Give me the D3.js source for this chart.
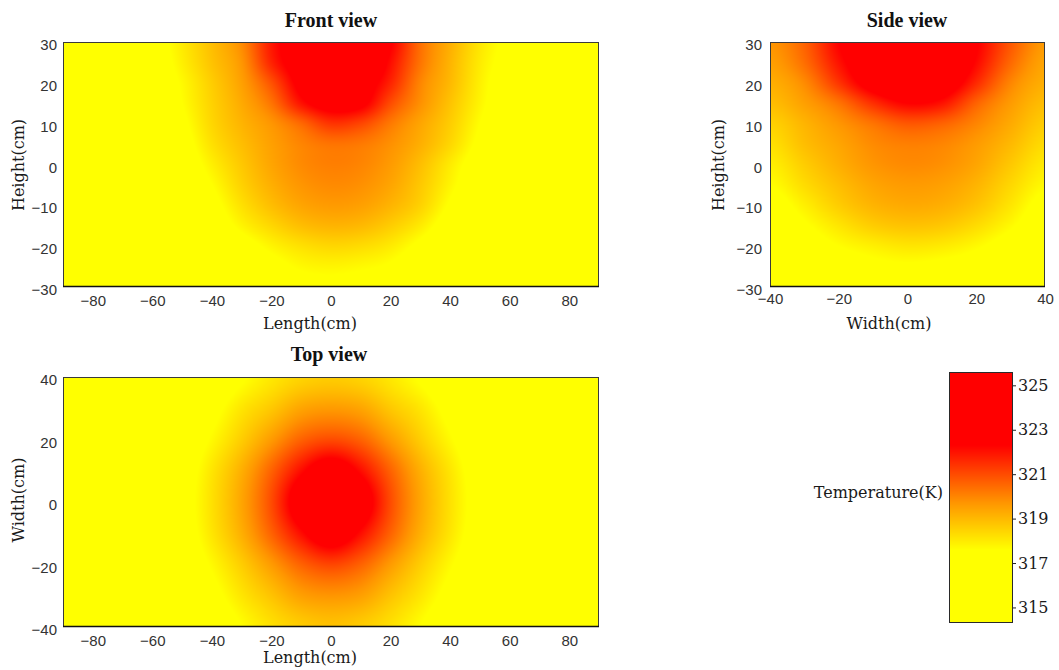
<!DOCTYPE html>
<html>
<head>
<meta charset="utf-8">
<script src="https://cdn.jsdelivr.net/npm/d3@7"></script>
<style>
  html, body { margin: 0; padding: 0; background: #ffffff; }
  svg { display: block; }
  .tick text { font-family: "Liberation Sans", Arial, sans-serif; font-size: 15px; fill: #333; }
  .cbar .tick text { font-family: "DejaVu Serif", serif; font-size: 16px; fill: #1a1a1a; }
  .axis-title { font-family: "DejaVu Serif", serif; font-size: 16px; fill: #1a1a1a; }
  .panel-title { font-family: "Liberation Serif", "Times New Roman", serif; font-size: 20px; font-weight: bold; fill: #111; }
</style>
</head>
<body>
<svg id="chart" width="1059" height="670"></svg>
<script>
// Grid coordinates (cm)
const lengthCoords = [-90, -80, -70, -60, -50, -40, -30, -20, -10, 0, 10, 20, 30, 40, 50, 60, 70, 80, 90];
const widthCoords = [-40, -30, -20, -10, 0, 10, 20, 30, 40];
const heightCoords = [30, 25, 20, 15, 10, 5, 0, -5, -10, -15, -20, -25, -30];
const topWidthCoords = [40, 30, 20, 10, 0, -10, -20, -30, -40];

// Front view: temperature (K), rows = height, columns = length
const frontTemp = [
  [315.5, 315.6, 316.1, 317.1, 318.0, 318.9, 319.9, 321.9, 323.0, 323.5, 323.2, 322.4, 320.4, 319.2, 318.1, 317.3, 316.3, 315.7, 315.5],
  [315.5, 315.6, 316.1, 317.0, 317.9, 318.8, 319.7, 321.7, 323.0, 324.0, 323.6, 322.1, 320.3, 319.1, 318.0, 317.2, 316.3, 315.7, 315.5],
  [315.5, 315.6, 316.0, 316.9, 317.7, 318.6, 319.5, 320.9, 322.7, 323.8, 323.0, 321.7, 320.0, 319.0, 317.9, 317.0, 316.2, 315.7, 315.5],
  [315.5, 315.6, 315.9, 316.7, 317.6, 318.5, 319.3, 320.3, 322.0, 322.9, 322.6, 321.0, 319.8, 318.8, 317.8, 316.9, 316.1, 315.7, 315.5],
  [315.5, 315.6, 315.9, 316.5, 317.4, 318.4, 319.1, 319.7, 320.5, 321.4, 321.1, 320.2, 319.4, 318.6, 317.6, 316.7, 316.0, 315.6, 315.5],
  [315.5, 315.6, 315.8, 316.4, 317.2, 318.2, 318.9, 319.5, 320.0, 320.3, 320.2, 319.8, 319.2, 318.4, 317.4, 316.6, 316.0, 315.6, 315.5],
  [315.5, 315.5, 315.8, 316.2, 317.0, 317.9, 318.7, 319.4, 319.9, 320.1, 320.0, 319.6, 318.9, 318.0, 317.1, 316.3, 315.9, 315.6, 315.5],
  [315.5, 315.5, 315.7, 316.0, 316.8, 317.6, 318.5, 319.2, 319.7, 319.9, 319.8, 319.4, 318.7, 317.8, 316.9, 316.1, 315.8, 315.6, 315.5],
  [315.5, 315.5, 315.6, 315.8, 316.5, 317.3, 318.2, 318.9, 319.4, 319.6, 319.5, 319.1, 318.5, 317.5, 316.6, 315.9, 315.7, 315.5, 315.5],
  [315.5, 315.5, 315.6, 315.7, 316.2, 317.0, 317.8, 318.4, 318.9, 319.1, 319.0, 318.6, 318.0, 317.1, 316.3, 315.8, 315.6, 315.5, 315.5],
  [315.5, 315.5, 315.5, 315.6, 316.0, 316.6, 317.2, 317.8, 318.2, 318.4, 318.3, 318.0, 317.4, 316.7, 316.1, 315.7, 315.5, 315.5, 315.5],
  [315.5, 315.5, 315.5, 315.6, 315.9, 316.3, 316.8, 317.3, 317.7, 317.8, 317.7, 317.5, 317.0, 316.5, 316.0, 315.7, 315.5, 315.5, 315.5],
  [315.5, 315.5, 315.5, 315.5, 315.8, 316.1, 316.5, 317.0, 317.3, 317.4, 317.3, 317.1, 316.7, 316.3, 315.9, 315.6, 315.5, 315.5, 315.5]
];

// Side view: rows = height, columns = width
const sideTemp = [
  [319.7, 320.6, 322.3, 323.3, 323.6, 323.4, 322.4, 320.8, 319.6],
  [319.5, 320.4, 322.0, 323.3, 324.0, 323.7, 322.2, 320.5, 319.4],
  [319.2, 319.9, 321.4, 322.9, 323.6, 323.2, 321.6, 320.0, 319.2],
  [318.9, 319.5, 320.3, 321.5, 322.3, 322.0, 320.6, 319.6, 318.9],
  [318.5, 319.1, 319.7, 320.3, 320.8, 320.6, 320.0, 319.3, 318.6],
  [318.2, 318.9, 319.4, 319.9, 320.1, 320.0, 319.6, 319.0, 318.3],
  [317.9, 318.6, 319.2, 319.7, 319.9, 319.8, 319.4, 318.7, 318.0],
  [317.6, 318.3, 318.9, 319.4, 319.6, 319.5, 319.1, 318.4, 317.7],
  [317.2, 317.9, 318.6, 319.1, 319.3, 319.2, 318.8, 318.1, 317.3],
  [316.9, 317.5, 318.1, 318.6, 318.8, 318.7, 318.3, 317.7, 317.0],
  [316.6, 317.1, 317.6, 317.9, 318.1, 318.0, 317.7, 317.2, 316.7],
  [316.3, 316.7, 317.1, 317.4, 317.5, 317.4, 317.2, 316.8, 316.4],
  [316.1, 316.4, 316.8, 317.0, 317.1, 317.0, 316.8, 316.5, 316.2]
];

// Top view: rows = width, columns = length
const topTemp = [
  [315.5, 315.5, 315.65, 315.9, 316.3, 316.9, 317.5, 318.05, 318.45, 318.6, 318.45, 318.05, 317.5, 316.9, 316.3, 315.9, 315.65, 315.5, 315.5],
  [315.5, 315.55, 315.75, 316.05, 316.6, 317.3, 318.1, 318.7, 319.4, 319.6, 319.4, 318.7, 318.1, 317.3, 316.6, 316.05, 315.75, 315.55, 315.5],
  [315.5, 315.6, 315.8, 316.2, 316.9, 317.7, 318.6, 319.6, 320.6, 321.0, 320.6, 319.6, 318.6, 317.7, 316.9, 316.2, 315.8, 315.6, 315.5],
  [315.5, 315.6, 315.9, 316.35, 317.1, 318.1, 319.2, 320.6, 322.1, 323.2, 322.1, 320.6, 319.2, 318.1, 317.1, 316.35, 315.9, 315.6, 315.5],
  [315.5, 315.6, 315.9, 316.4, 317.2, 318.2, 319.4, 321.0, 323.2, 325.0, 323.2, 321.0, 319.4, 318.2, 317.2, 316.4, 315.9, 315.6, 315.5],
  [315.5, 315.6, 315.9, 316.35, 317.1, 318.1, 319.2, 320.6, 322.1, 323.3, 322.1, 320.6, 319.2, 318.1, 317.1, 316.35, 315.9, 315.6, 315.5],
  [315.5, 315.6, 315.8, 316.2, 316.9, 317.7, 318.6, 319.6, 320.6, 321.1, 320.6, 319.6, 318.6, 317.7, 316.9, 316.2, 315.8, 315.6, 315.5],
  [315.5, 315.55, 315.75, 316.05, 316.6, 317.3, 318.1, 318.8, 319.5, 319.7, 319.5, 318.8, 318.1, 317.3, 316.6, 316.05, 315.75, 315.55, 315.5],
  [315.5, 315.5, 315.65, 315.9, 316.3, 316.9, 317.6, 318.2, 318.6, 318.8, 318.6, 318.2, 317.6, 316.9, 316.3, 315.9, 315.65, 315.5, 315.5]
];

// Tick labels
const lengthTicks = [-80, -60, -40, -20, 0, 20, 40, 60, 80];
const heightTicks = [-30, -20, -10, 0, 10, 20, 30];
const widthTicks = [-40, -20, 0, 20, 40];
const tempTicks = [315, 317, 319, 321, 323, 325];
const tempRange = [314.3, 325.6];

// Colour map: yellow -> orange -> red
const colorStops = [317.6, 319.7, 322.3];
const colorValues = ["#ffff00", "#ff9600", "#ff0000"];
const color = d3.scaleLinear().domain(colorStops).range(colorValues).clamp(true);

const svg = d3.select("#chart");

function catmull(p0, p1, p2, p3, t) {
  return p1 + 0.5 * t * (p2 - p0 + t * (2 * p0 - 5 * p1 + 4 * p2 - p3 + t * (3 * (p1 - p2) + p3 - p0)));
}

// Smooth sample of a regular grid at fractional indices (fx, fy)
function sampleGrid(grid, fx, fy) {
  const nr = grid.length, nc = grid[0].length;
  const ci = Math.floor(fx), ri = Math.floor(fy);
  const tx = fx - ci, ty = fy - ri;
  const cl = (v, n) => Math.max(0, Math.min(n - 1, v));
  const rowVals = [];
  for (let j = -1; j <= 2; j++) {
    const row = grid[cl(ri + j, nr)];
    rowVals.push(catmull(row[cl(ci - 1, nc)], row[cl(ci, nc)], row[cl(ci + 1, nc)], row[cl(ci + 2, nc)], tx));
  }
  return catmull(rowVals[0], rowVals[1], rowVals[2], rowVals[3], ty);
}

function heatPanel(opt) {
  const x = d3.scaleLinear().domain(opt.xDomain).range([opt.left, opt.right]);
  const y = d3.scaleLinear().domain(opt.yDomain).range([opt.bottom, opt.top]);
  const w = Math.round(opt.right - opt.left), h = Math.round(opt.bottom - opt.top);

  const canvas = document.createElement("canvas");
  canvas.width = w; canvas.height = h;
  const ctx = canvas.getContext("2d");
  const img = ctx.createImageData(w, h);
  const xs = opt.xCoords, ys = opt.yCoords;
  const dx = xs[1] - xs[0], dy = ys[1] - ys[0];
  for (let py = 0; py < h; py++) {
    const vy = y.invert(opt.top + py + 0.5);
    const fy = (vy - ys[0]) / dy;
    for (let px = 0; px < w; px++) {
      const vx = x.invert(opt.left + px + 0.5);
      const fx = (vx - xs[0]) / dx;
      const c = d3.rgb(color(sampleGrid(opt.grid, fx, fy)));
      const k = 4 * (py * w + px);
      img.data[k] = c.r; img.data[k + 1] = c.g; img.data[k + 2] = c.b; img.data[k + 3] = 255;
    }
  }
  ctx.putImageData(img, 0, 0);

  const g = svg.append("g");
  g.append("image")
    .attr("x", opt.left).attr("y", opt.top)
    .attr("width", w).attr("height", h)
    .attr("preserveAspectRatio", "none")
    .attr("href", canvas.toDataURL());

  g.append("rect")
    .attr("x", opt.left + 0.5).attr("y", opt.top + 0.5)
    .attr("width", w - 1).attr("height", h - 1)
    .attr("fill", "none").attr("stroke", "#3a3a3a").attr("stroke-width", 1);
  g.append("line")
    .attr("x1", opt.left).attr("x2", opt.right)
    .attr("y1", opt.bottom - 0.5).attr("y2", opt.bottom - 0.5)
    .attr("stroke", "#111").attr("stroke-width", 1.6);

  const xAxis = g.append("g")
    .attr("transform", `translate(0,${opt.bottom})`)
    .call(d3.axisBottom(x).tickValues(opt.xTicks).tickSize(0).tickPadding(opt.xPad || 8).tickFormat(d3.format("d")));
  xAxis.select(".domain").remove();

  const yAxis = g.append("g")
    .attr("transform", `translate(${opt.left},0)`)
    .call(d3.axisLeft(y).tickValues(opt.yTicks).tickSize(0).tickPadding(opt.yPad || 6).tickFormat(d3.format("d")));
  yAxis.select(".domain").remove();
  yAxis.selectAll(".tick text").attr("dy", "0.5em");

  g.append("text").attr("class", "panel-title")
    .attr("x", opt.titleX).attr("y", opt.titleY)
    .attr("text-anchor", "middle").text(opt.title);
  g.append("text").attr("class", "axis-title")
    .attr("x", opt.xLabelX).attr("y", opt.xLabelY)
    .attr("text-anchor", "middle").text(opt.xLabel);
  g.append("text").attr("class", "axis-title")
    .attr("transform", `translate(${opt.yLabelX},${opt.yLabelY}) rotate(-90)`)
    .attr("text-anchor", "middle").text(opt.yLabel);
}

heatPanel({
  grid: frontTemp, xCoords: lengthCoords, yCoords: heightCoords,
  xDomain: [-90, 90], yDomain: [-30, 30],
  left: 63, right: 599, top: 42, bottom: 287,
  xTicks: lengthTicks, yTicks: heightTicks, xPad: 8,
  title: "Front view", titleX: 331, titleY: 27,
  xLabel: "Length(cm)", xLabelX: 310, xLabelY: 329,
  yLabel: "Height(cm)", yLabelX: 24, yLabelY: 165
});

heatPanel({
  grid: sideTemp, xCoords: widthCoords, yCoords: heightCoords,
  xDomain: [-40, 40], yDomain: [-30, 30],
  left: 770, right: 1045, top: 42, bottom: 287,
  xTicks: widthTicks, yTicks: heightTicks, xPad: 6, yPad: 8,
  title: "Side view", titleX: 907, titleY: 27,
  xLabel: "Width(cm)", xLabelX: 889, xLabelY: 329,
  yLabel: "Height(cm)", yLabelX: 724, yLabelY: 165
});

heatPanel({
  grid: topTemp, xCoords: lengthCoords, yCoords: topWidthCoords,
  xDomain: [-90, 90], yDomain: [-40, 40],
  left: 63, right: 599, top: 377, bottom: 627,
  xTicks: lengthTicks, yTicks: widthTicks, xPad: 8,
  title: "Top view", titleX: 329, titleY: 361,
  xLabel: "Length(cm)", xLabelX: 310, xLabelY: 663,
  yLabel: "Width(cm)", yLabelX: 24, yLabelY: 500
});

// Colour bar
(function () {
  const left = 949, right = 1013, top = 372, bottom = 623;
  const cy = d3.scaleLinear().domain(tempRange).range([bottom, top]);
  const w = right - left, h = bottom - top;
  const canvas = document.createElement("canvas");
  canvas.width = 1; canvas.height = h;
  const ctx = canvas.getContext("2d");
  for (let py = 0; py < h; py++) {
    ctx.fillStyle = color(cy.invert(top + py + 0.5));
    ctx.fillRect(0, py, 1, 1);
  }
  const g = svg.append("g").attr("class", "cbar");
  g.append("image")
    .attr("x", left).attr("y", top).attr("width", w).attr("height", h)
    .attr("preserveAspectRatio", "none")
    .attr("href", canvas.toDataURL());
  g.append("rect")
    .attr("x", left + 0.5).attr("y", top + 0.5).attr("width", w - 1).attr("height", h - 1)
    .attr("fill", "none").attr("stroke", "#2a2a2a");
  const ax = g.append("g").attr("transform", `translate(${right},0)`)
    .call(d3.axisRight(cy).tickValues(tempTicks).tickSize(3).tickPadding(2).tickFormat(d3.format("d")));
  ax.select(".domain").remove();
  ax.selectAll(".tick line").attr("stroke", "#222");
  g.append("text").attr("class", "axis-title")
    .attr("x", 943).attr("y", 498).attr("text-anchor", "end").text("Temperature(K)");
})();
</script>
</body>
</html>
